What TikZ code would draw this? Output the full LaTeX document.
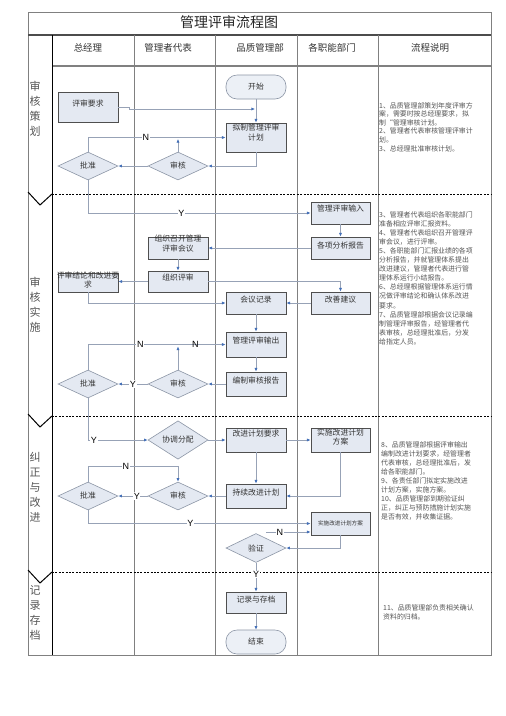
\documentclass[tikz,border=0pt]{standalone}
\usepackage{fontspec}
\setmainfont{Noto Sans CJK SC}
\newfontfamily\latinsf{Liberation Sans}
\usetikzlibrary{shapes.geometric,arrows.meta,calc}
\definecolor{boxfill}{HTML}{E4E9F2}
\definecolor{boxline}{HTML}{4F4F4F}
\definecolor{dmline}{HTML}{8C96A6}
\definecolor{connc}{HTML}{97A2B6}
\definecolor{arrc}{HTML}{4470B8}
\definecolor{tline}{HTML}{808080}
\definecolor{txtc}{HTML}{333333}
\definecolor{notec}{HTML}{555555}
\tikzset{
  pbx/.style={draw=boxline,line width=0.9pt,fill=boxfill,rectangle,inner sep=0pt},
  pbxt/.style={font=\fontsize{7.8}{9.6}\selectfont,text=txtc,align=center,inner sep=0pt},
  dmd/.style={diamond,draw=dmline,line width=0.6pt,fill=boxfill,minimum width=60pt,minimum height=28pt,inner sep=0pt,font=\fontsize{7.8}{9.6}\selectfont,text=txtc},
  term/.style={rectangle,rounded corners=11pt,draw=dmline,line width=0.6pt,fill=boxfill!70!white,minimum width=60pt,minimum height=24pt,inner sep=0pt,font=\fontsize{7.8}{9.6}\selectfont,text=txtc},
  conn/.style={draw=connc,line width=0.7pt,-{Latex[length=3.6pt,width=3.2pt,color=arrc]}},
  lbl/.style={font=\latinsf\fontsize{9}{9}\selectfont,fill=white,inner sep=0.6pt,text=black},
  note/.style={font=\fontsize{6.9}{9.1}\selectfont,text=notec,align=left,inner sep=0pt,anchor=north west},
  stagetxt/.style={font=\fontsize{11}{15}\selectfont,text=notec,align=center,inner sep=0pt,anchor=north},
  headtxt/.style={font=\fontsize{9.5}{10}\selectfont,text=txtc,inner sep=0pt},
  dashsep/.style={draw=black,line width=0.9pt,dash pattern=on 2pt off 1.4pt},
  chev/.style={draw=black,line width=1pt}
}
\newcommand\pbox[7]{% name x1 y1 x2 y2 textshift text
  \node[pbx,minimum width=#4pt-#2pt,minimum height=#5pt-#3pt] (#1) at ({(#2+#4)/2},{(#3+#5)/2}) {};
  \node[pbxt,anchor=north] (#1t) at ([yshift=-#6pt]#1.north) {#7};}
\begin{document}
\begin{tikzpicture}[x=1pt,y=-1pt]
\useasboundingbox[fill=white] (0,0) rectangle (506,716);
% ---------- table ----------
\draw[tline,line width=1pt] (28,12) rectangle (491,655);
\draw[draw=black!70,line width=1.5pt] (28,35) -- (491,35);
\draw[tline,line width=1.2pt] (52,66) -- (491,66);
\foreach \xx in {134,215,297,378} {\draw[tline,line width=0.9pt] (\xx,35) -- (\xx,655);}
\draw[black,line width=1pt] (52,35) -- (52,655);
\node[font=\fontsize{14}{14}\selectfont,text=black!85,inner sep=0pt] (title) at (229,22) {管理评审流程图};
\node[headtxt] (h1) at (88,48) {总经理};
\node[headtxt] (h2) at (168,48) {管理者代表};
\node[headtxt] (h3) at (260,48) {品质管理部};
\node[headtxt] (h4) at (332,48) {各职能部门};
\node[headtxt] (h5) at (430,48) {流程说明};
% separators
\foreach \yy in {194,416,572} {
  \draw[dashsep] (52,\yy) -- (491,\yy);
  \draw[chev] (28,\yy-2) -- (40,\yy+11) -- (52,\yy);
}
% stage labels
\node[stagetxt] (s1) at (35,81) {审\\核\\策\\划};
\node[stagetxt] (s2) at (35,277) {审\\核\\实\\施};
\node[stagetxt] (s3) at (35,452) {纠\\正\\与\\改\\进};
\node[stagetxt] (s4) at (35,585) {记\\录\\存\\档};
% notes
\node[note,font=\fontsize{6.9}{8.6}\selectfont] (n1) at (379,102) {1、品质管理部策划年度评审方\\案，需要时按总经理要求，拟\\制“管理审核计划。\\2、管理者代表审核管理评审计\\划。\\3、总经理批准审核计划。};
\node[note] (n2) at (379,211) {3、管理者代表组织各职能部门\\准备相应评审汇报资料。\\4、管理者代表组织召开管理评\\审会议，进行评审。\\5、各职能部门汇报业绩的各项\\分析报告，并就管理体系提出\\改进建议，管理者代表进行管\\理体系运行小结报告。\\6、总经理根据管理体系运行情\\况做评审结论和确认体系改进\\要求。\\7、品质管理部根据会议记录编\\制管理评审报告，经管理者代\\表审核，总经理批准后，分发\\给指定人员。};
\node[note] (n3) at (381,441) {8、品质管理部根据评审输出\\编制改进计划要求，经管理者\\代表审核，总经理批准后，发\\给各职能部门。\\9、各责任部门拟定实施改进\\计划方案，实施方案。\\10、品质管理部到期验证纠\\正，纠正与预防措施计划实施\\是否有效，并收集证据。};
\node[note] (n4) at (383,604) {11、品质管理部负责相关确认\\资料的归档。};
% ---------- nodes ----------
\node[term] (start) at (256,87) {开始};
\pbox{req}{58}{92}{118}{122}{8}{评审要求}
\pbox{plan}{226}{123}{286}{152}{1.5}{拟制管理评审\\计划}
\node[dmd] (ap1) at (88,166) {批准};
\node[dmd] (rv1) at (178,166) {审核};
\pbox{inp}{311}{202}{370}{224}{3}{管理评审输入}
\pbox{an}{311}{237}{370}{259}{5}{各项分析报告}
\pbox{mt}{148}{237}{208}{259}{-1.5}{组织召开管理\\评审会议}
\pbox{org}{148}{271}{208}{292}{3}{组织评审}
\pbox{cc}{58}{273}{118}{292}{-1}{评审结论和改进要\\求}
\pbox{rec}{226}{292}{286}{314}{4}{会议记录}
\pbox{sug}{311}{292}{370}{314}{4}{改善建议}
\pbox{outp}{226}{332}{286}{357}{5}{管理评审输出}
\pbox{rep}{226}{372}{286}{396}{5}{编制审核报告}
\node[dmd] (ap2) at (88,384) {批准};
\node[dmd] (rv2) at (178,384) {审核};
\node[dmd] (co) at (178,440) {协调分配};
\pbox{ir}{226}{428}{286}{452}{2}{改进计划要求}
\pbox{ipa}{311}{428}{370}{452}{1}{实施改进计划\\方案}
\pbox{cp}{226}{484}{286}{508}{5}{持续改进计划}
\node[dmd] (rv3) at (178,496) {审核};
\node[dmd] (ap3) at (88,496) {批准};
\node[pbx,minimum width=59pt,minimum height=23pt,font=\fontsize{5.6}{6}\selectfont,text=txtc] (ipb) at (340.5,523.5) {实施改进计划方案};
\node[dmd,minimum height=29pt] (vf) at (256,548) {验证};
\pbox{ar}{226}{592}{286}{613}{4}{记录与存档}
\node[term] (fin) at (256,642) {结束};
\coordinate (m1) at (255,109);
\coordinate (nst) at (266,532);
% ---------- connectors ----------
\draw[conn] (start) -- (plan);
\draw[conn] (req.east) -- (129,107) -- (129,109) -- (m1);
\draw[conn] (plan.south) |- (rv1.east);
\draw[conn] (rv1) -- (ap1);
\draw[conn] (ap1.north) |- node[lbl,pos=0.71]{N} (plan.west);
\draw[conn] (rv1.north) -- ([yshift=-1.5pt]rv1.north |- plan.west);
\draw[conn] (ap1.south) |- node[lbl,pos=0.71]{Y} (inp.west);
\draw[conn] (inp) -- (an);
\draw[conn] (an) -- (mt);
\draw[conn] (mt) -- (org);
\draw[conn] (org.west) -- (org.west -| cc.east);
\draw[conn] (org.east) -| (sug.north);
\draw[conn] (cc.south) |- (rec.west);
\draw[conn] (sug) -- (rec);
\draw[conn] (rec) -- (outp);
\draw[conn] (outp) -- (rep);
\draw[conn] (rep.west) -- (rv2.east);
\draw[conn] (rv2) -- node[lbl,pos=0.5]{Y} (ap2);
\draw[conn] (rv2.north) -- ([yshift=-2pt]rv2.north |- outp.west);
\draw[conn] (ap2.north) |- node[lbl,pos=0.69]{N} node[lbl,fill=none,pos=0.89]{N} (outp.west);
\draw[conn] (ap2.south) |- node[lbl,pos=0.55]{Y} (co.west);
\draw[conn] (co) -- (ir);
\draw[conn] (ir) -- (ipa);
\draw[conn] (ir) -- (cp);
\draw[conn] (ipa.south) |- (cp.east);
\draw[conn] (cp) -- (rv3);
\draw[conn] (rv3) -- node[lbl,pos=0.37]{Y} (ap3);
\draw[conn] (ap3.north) -- ++(0,-15) -| node[lbl,pos=0.21]{N} (rv3.north);
\draw[conn] (ap3.south) |- node[lbl,pos=0.73]{Y} (ipb.west);
\draw[conn] (ipb.south) |- (vf.east);
\draw[conn] (nst) -- node[lbl,pos=0.31]{N} (nst -| ipb.west);
\draw[conn] (vf.south) -- node[lbl,pos=0.41]{Y} (ar.north);
\draw[conn] (ar) -- (fin);
\end{tikzpicture}
\end{document}
